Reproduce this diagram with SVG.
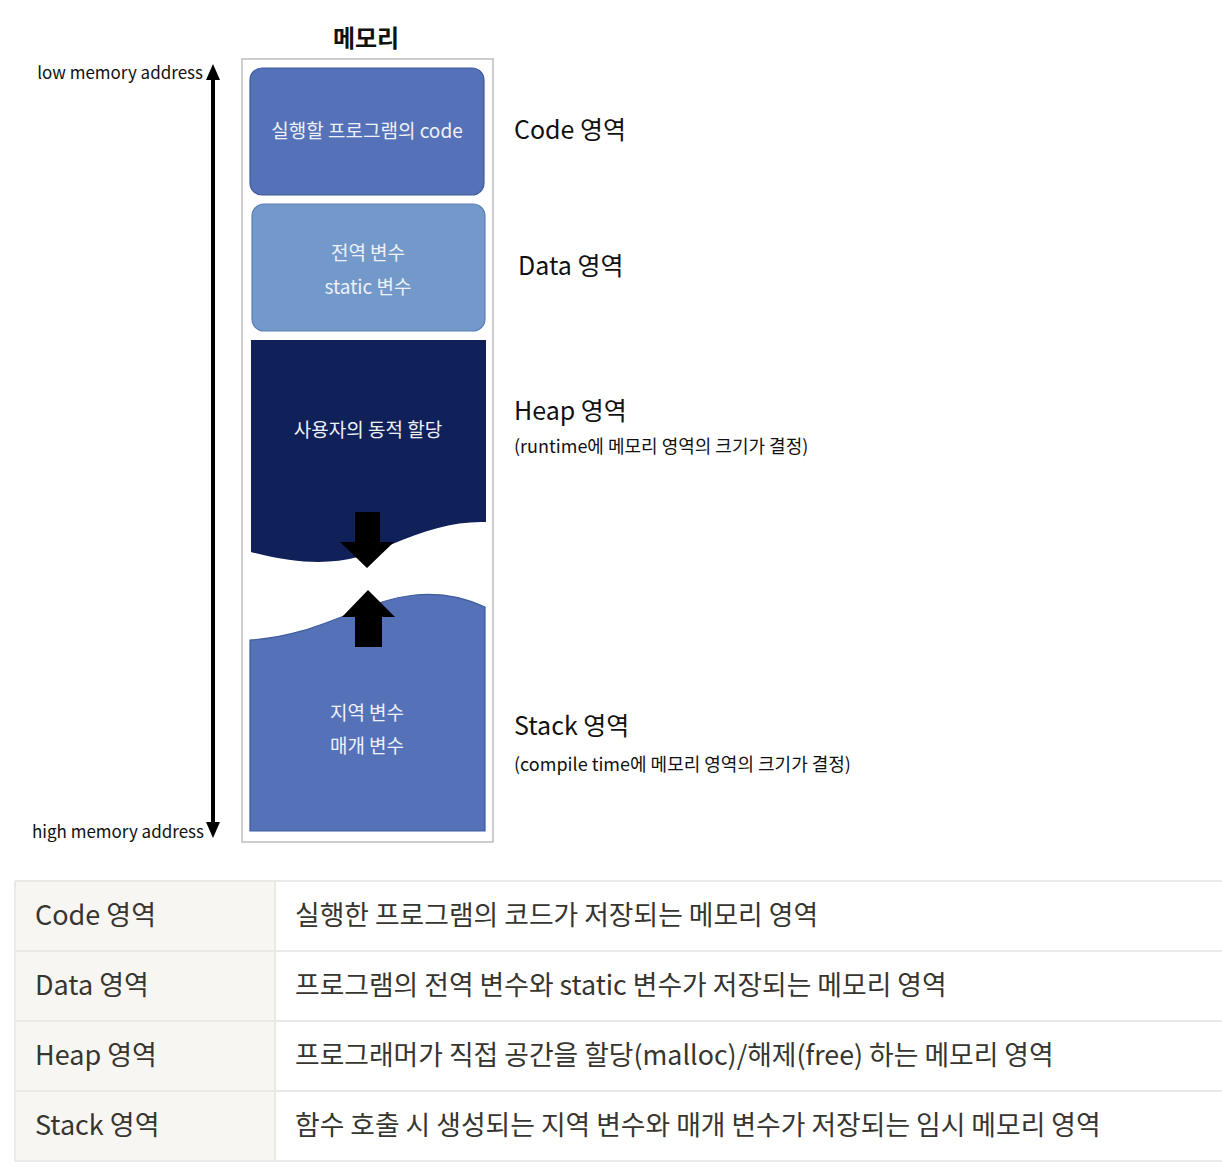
<svg xmlns="http://www.w3.org/2000/svg" width="1222" height="1176" viewBox="0 0 1222 1176">
<defs>
<style>
text{font-family:"Noto Sans CJK KR","Noto Sans",sans-serif;}
.in{fill:#eef1f8;font-size:19px;text-anchor:middle;}
.lbl{fill:#111;font-size:25px;}
.sub{fill:#111;font-size:18px;}
.addr{fill:#111;font-size:17px;text-anchor:end;}
.tl{fill:#37352f;font-size:27px;}
.tc{fill:#37352f;font-size:26.8px;}
.cell{stroke:#e9e9e7;stroke-width:2;}
</style>
</defs>
<rect width="1222" height="1176" fill="#fff"/>
<text x="366" y="47" text-anchor="middle" font-size="24" font-weight="bold" fill="#111">메모리</text>
<rect id="frame" x="242" y="59" width="251" height="783" fill="#fff" stroke="#bdbdbd" stroke-width="1.5"/>

<g id="connectors">
<line x1="213" y1="80" x2="213" y2="824" stroke="#000" stroke-width="4"/>
<path d="M213,64 L206,80 L220,80 Z" fill="#000"/>
<path d="M213,838 L206,822 L220,822 Z" fill="#000"/>
</g>
<text class="addr" x="203" y="79">low memory address</text>
<text class="addr" x="204" y="838">high memory address</text>

<g id="code">
<rect x="250" y="68" width="234" height="127" rx="12" fill="#5572b9" stroke="#3f5c9e" stroke-width="1.2"/>
<text class="in" x="367" y="138">실행할 프로그램의 code</text>
</g>
<g id="data">
<rect x="252" y="204" width="233" height="127" rx="12" fill="#7399ca" stroke="#5a7fb5" stroke-width="1.2"/>
<text class="in" x="368" y="260">전역 변수</text>
<text class="in" x="368" y="294">static 변수</text>
</g>
<g id="heap">
<path d="M251,340 L486,340 L486,522 C455,521 425,530 390,545 C355,561 320,570 251,552 Z" fill="#10215a"/>
<text class="in" x="368" y="437">사용자의 동적 할당</text>
</g>
<g id="stack">
<path d="M250,640 C320,636 360,601 415,595 C445,592 468,599 485,607 L485,831 L250,831 Z" fill="#5572b9" stroke="#3f5c9e" stroke-width="1.2"/>
<text class="in" x="367" y="720">지역 변수</text>
<text class="in" x="367" y="753">매개 변수</text>
</g>
<g id="arrows">
<path d="M355,512 L380,512 L380,542 L394,542 L367,568 L340,542 L355,542 Z" fill="#000"/>
<path d="M368,590 L395,617 L382,617 L382,647 L355,647 L355,617 L342,617 Z" fill="#000"/>
</g>

<g id="labels">
<text class="lbl" x="514" y="139">Code 영역</text>
<text class="lbl" x="518" y="275">Data 영역</text>
<text class="lbl" x="514" y="420">Heap 영역</text>
<text class="sub" x="514" y="453">(runtime에 메모리 영역의 크기가 결정)</text>
<text class="lbl" x="514" y="735">Stack 영역</text>
<text class="sub" x="514" y="771">(compile time에 메모리 영역의 크기가 결정)</text>
</g>

<g id="table">
<rect x="15" y="881" width="260" height="280" fill="#f7f6f3"/>
<line class="cell" x1="15" y1="881" x2="1222" y2="881"/>
<line class="cell" x1="15" y1="951" x2="1222" y2="951"/>
<line class="cell" x1="15" y1="1021" x2="1222" y2="1021"/>
<line class="cell" x1="15" y1="1091" x2="1222" y2="1091"/>
<line class="cell" x1="15" y1="1161" x2="1222" y2="1161"/>
<line class="cell" x1="15" y1="881" x2="15" y2="1161"/>
<line class="cell" x1="275" y1="881" x2="275" y2="1161"/>
<text class="tl" x="35" y="925">Code 영역</text>
<text class="tc" x="295" y="925">실행한 프로그램의 코드가 저장되는 메모리 영역</text>
<text class="tl" x="35" y="995">Data 영역</text>
<text class="tc" x="295" y="995">프로그램의 전역 변수와 static 변수가 저장되는 메모리 영역</text>
<text class="tl" x="35" y="1065">Heap 영역</text>
<text class="tc" x="295" y="1065">프로그래머가 직접 공간을 할당(malloc)/해제(free) 하는 메모리 영역</text>
<text class="tl" x="35" y="1135">Stack 영역</text>
<text class="tc" x="295" y="1135">함수 호출 시 생성되는 지역 변수와 매개 변수가 저장되는 임시 메모리 영역</text>
</g>
</svg>
